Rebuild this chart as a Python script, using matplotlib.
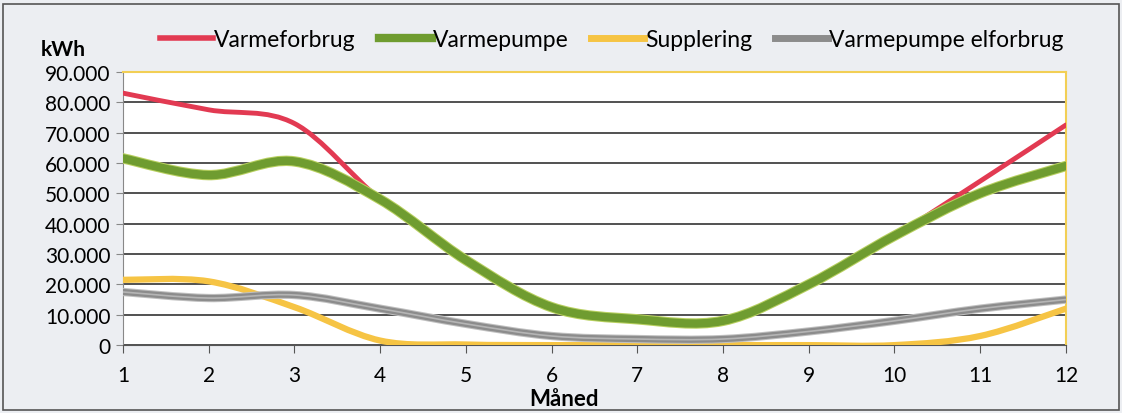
import numpy as np
import matplotlib
matplotlib.use("Agg")
import matplotlib.pyplot as plt
from matplotlib.path import Path
from matplotlib.patches import PathPatch, Rectangle
from matplotlib.lines import Line2D
from matplotlib.ticker import FuncFormatter

plt.rcParams['font.family'] = ['Lato', 'DejaVu Sans']

# monthly values in kWh
months = [1, 2, 3, 4, 5, 6, 7, 8, 9, 10, 11, 12]
varmeforbrug = [83000, 77500, 73000, 48000, 28000, 12500, 8500, 8000, 20000, 36000, 54000, 72500]
varmepumpe = [61500, 56000, 60500, 48000, 28000, 12500, 8500, 8000, 20000, 36000, 50000, 59000]
supplering = [21500, 21000, 12500, 1500, 200, 0, 0, 0, 0, 0, 3000, 12000]
elforbrug = [17500, 15500, 16500, 12000, 7000, 3000, 2000, 2000, 4500, 8000, 12000, 15000]


def smooth_path(x, y):
    # Excel-style smoothed line: cubic bezier through the points
    x = np.asarray(x, float)
    y = np.asarray(y, float)
    pts = np.column_stack([x, y])
    n = len(pts)
    verts = [pts[0]]
    codes = [Path.MOVETO]
    for i in range(n - 1):
        p0 = pts[i - 1] if i > 0 else pts[i]
        p1 = pts[i]
        p2 = pts[i + 1]
        p3 = pts[i + 2] if i + 2 < n else pts[i + 1]
        c1 = p1 + (p2 - p0) / 6.0
        c2 = p2 - (p3 - p1) / 6.0
        verts += [c1, c2, p2]
        codes += [Path.CURVE4] * 3
    return Path(verts, codes)


fig = plt.figure(figsize=(11.22, 4.14), dpi=100)
fig.patch.set_facecolor('#eceef2')
fig.patches.append(Rectangle((0.003, 0.008), 0.994, 0.98, transform=fig.transFigure,
                             fill=False, edgecolor='#555555', linewidth=1.2))

ax = fig.add_axes([0.1096, 0.164, 0.8404, 0.660])
ax.set_facecolor('white')

series = [
    (varmeforbrug, '#e23a52', 3.5, None),
    (varmepumpe, '#6f9c30', 6.0, '#b8d060'),
    (supplering, '#f6c444', 4.5, None),
    (elforbrug, '#8c8c8c', 4.5, '#c0c0c0'),
]
for vals, col, lw, edge in series:
    if edge is not None:
        ax.add_patch(PathPatch(smooth_path(months, vals), fill=False, edgecolor=edge,
                               linewidth=lw + 1.5, capstyle='round', zorder=3))
    ax.add_patch(PathPatch(smooth_path(months, vals), fill=False, edgecolor=col,
                           linewidth=lw, capstyle='round', zorder=3))
# elforbrug has a light centre stripe
ax.add_patch(PathPatch(smooth_path(months, elforbrug), fill=False, edgecolor='#b5b5b5',
                       linewidth=1.2, zorder=3))

ax.set_xlim(1, 12)
ax.set_ylim(0, 90000)
ax.set_xticks(months)
ax.set_yticks(np.arange(0, 90001, 10000))
ax.yaxis.set_major_formatter(FuncFormatter(lambda v, p: f"{int(v):,}".replace(',', '.')))
ax.grid(axis='y', color='#222222', linewidth=1.1)
ax.set_axisbelow(True)

for s in ['top', 'right']:
    ax.spines[s].set_color('#f2cf55')
    ax.spines[s].set_linewidth(1.5)
ax.spines['left'].set_color('#888888')
ax.spines['bottom'].set_color('#555555')
ax.tick_params(axis='x', direction='out', length=6, color='#555555', labelsize=15, pad=8)
ax.tick_params(axis='y', direction='out', length=5, color='#888888', labelsize=15, pad=4)

fig.text(0.503, 0.010, 'Måned', fontsize=16, fontweight='bold', ha='center', va='bottom')
fig.text(0.056, 0.855, 'kWh', fontsize=15, fontweight='bold', ha='center', va='bottom')

handles = [
    Line2D([], [], color='#e23a52', linewidth=4),
    Line2D([], [], color='#6f9c30', linewidth=6),
    Line2D([], [], color='#f6c444', linewidth=5),
    Line2D([], [], color='#8c8c8c', linewidth=5),
]
labels = ['Varmeforbrug', 'Varmepumpe', 'Supplering', 'Varmepumpe elforbrug']
fig.legend(handles, labels, loc='center left', bbox_to_anchor=(0.143, 0.903), ncol=4,
           frameon=False, fontsize=16.5, handlelength=2.3, handletextpad=0.05,
           columnspacing=1.0, borderpad=0, borderaxespad=0)

fig.savefig('out.png', dpi=100, facecolor=fig.get_facecolor())
